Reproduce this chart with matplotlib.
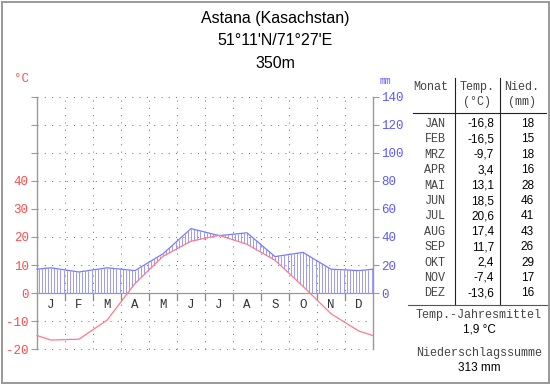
import matplotlib
matplotlib.use("Agg")
import matplotlib.pyplot as plt
import numpy as np

# climate data (Astana)
title_lines = ["Astana (Kasachstan)", "51°11'N/71°27'E", "350m"]
months = ["JAN", "FEB", "MRZ", "APR", "MAI", "JUN", "JUL", "AUG", "SEP", "OKT", "NOV", "DEZ"]
month_letters = ["J", "F", "M", "A", "M", "J", "J", "A", "S", "O", "N", "D"]
temp = [-16.8, -16.5, -9.7, 3.4, 13.1, 18.5, 20.6, 17.4, 11.7, 2.4, -7.4, -13.6]
prec = [18, 15, 18, 16, 28, 46, 41, 43, 26, 29, 17, 16]
temp_mean = "1,9 °C"
prec_sum = "313 mm"

W, H = 550, 384
RED = "#ff7a88"
BLUE = "#7a7aff"
MONO = "Liberation Mono"
SANS = "Liberation Sans"

fig = plt.figure(figsize=(W / 100, H / 100), dpi=100)
fig.patch.set_facecolor("white")

def fx(x):
    return x / W

def fy(y):
    return 1 - y / H

def ftext(x, y, s, **kw):
    fig.text(fx(x), fy(y), s, **kw)

# plot area: x 37..373, y 97..349 (-20..70 degC)
ax = fig.add_axes([fx(37), fy(349), (373 - 37) / W, (349 - 97) / H])
ax.set_xlim(0, 12)
ax.set_ylim(-20, 70)
for s in ax.spines.values():
    s.set_visible(False)
ax.patch.set_alpha(0)

dots = (0, (1, 6))
for v in range(-20, 80, 10):
    if v != 0:
        ax.plot([0, 12], [v, v], color="#777777", lw=0.75, ls=dots, clip_on=False)
for m in range(1, 12):
    ax.plot([m, m], [-20, 70], color="#777777", lw=0.75, ls=dots, clip_on=False)
    ax.plot([m, m], [0, -2.6], color="#888888", lw=0.9, clip_on=False)
ax.plot([0, 12], [0, 0], color="#999999", lw=0.9, clip_on=False)
ax.plot([0, 0], [-20, 70], color="#999999", lw=1, clip_on=False)
ax.plot([12, 12], [-20, 70], color="#999999", lw=1, clip_on=False)

# curves at mid-month, closed at the edges with Dec/Jan average
xc = np.arange(12) + 0.5
t = np.array(temp)
p = np.array(prec) / 2.0
xs = np.concatenate([[0], xc, [12]])
ts = np.concatenate([[(t[0] + t[-1]) / 2], t, [(t[0] + t[-1]) / 2]])
ps = np.concatenate([[(p[0] + p[-1]) / 2], p, [(p[0] + p[-1]) / 2]])

xh = np.arange(0.06, 12, 1 / 9)
th = np.interp(xh, xs, ts)
ph = np.interp(xh, xs, ps)
wet = ph > th
ax.vlines(xh[wet], np.maximum(th[wet], 0), ph[wet], color="#9a9aff", lw=0.7)
dry = ~wet
if dry.any():
    ax.vlines(xh[dry], ph[dry], th[dry], color=RED, lw=0.7, ls=(0, (1, 1)))

ax.plot(xs, ps, color=BLUE, lw=0.9, clip_on=False)
ax.plot(xs, ts, color=RED, lw=0.9, clip_on=False)

ax.set_xticks([])
ax.set_yticks(range(-20, 80, 10))
ax.set_yticklabels([str(v) if v <= 40 else "" for v in range(-20, 80, 10)])
ax.tick_params(axis="y", length=4, width=0.8, color="#999999", labelcolor="#ff4c4c",
               pad=2, labelsize=9)
for lab in ax.get_yticklabels():
    lab.set_family(MONO)

for i, ml in enumerate(month_letters):
    ax.text(i + 0.5, -4.4, ml, ha="center", va="center", fontsize=9,
            family=MONO, color="#333333")

ax2 = ax.twinx()
ax2.set_ylim(-40, 140)
for s in ax2.spines.values():
    s.set_visible(False)
ax2.set_yticks(range(0, 160, 20))
ax2.tick_params(axis="y", length=4, width=0.8, color="#999999", labelcolor="#5a5aff",
                pad=2, labelsize=9)
for lab in ax2.get_yticklabels():
    lab.set_family(MONO)

# titles and unit labels
for i, line in enumerate(title_lines):
    ftext(275, 18 + 22.5 * i, line, ha="center", va="center", fontsize=11.5, family=SANS)
ftext(22, 79, "°C", ha="center", va="center", fontsize=9, family=MONO, color="#ff4c4c")
ftext(385, 81, "mm", ha="center", va="center", fontsize=7, family=MONO, color="#5a5aff")

# table
gray = "#444444"
ftext(431, 87, "Monat", ha="center", va="center", fontsize=8.5, family=MONO, color=gray)
ftext(477, 87, "Temp.", ha="center", va="center", fontsize=8.5, family=MONO, color=gray)
ftext(522, 87, "Nied.", ha="center", va="center", fontsize=8.5, family=MONO, color=gray)
ftext(477, 102, "(°C)", ha="center", va="center", fontsize=8.5, family=MONO, color=gray)
ftext(522, 102, "(mm)", ha="center", va="center", fontsize=8.5, family=MONO, color=gray)
for i, mo in enumerate(months):
    y = 124 + 15.4 * i
    ftext(435, y, mo, ha="center", va="center", fontsize=8.5, family=MONO, color=gray)
    ftext(494, y, ("%.1f" % temp[i]).replace(".", ","), ha="right", va="center",
          fontsize=8.5, family=SANS)
    ftext(534, y, str(prec[i]), ha="right", va="center", fontsize=8.5, family=SANS)

ftext(479, 315, "Temp.-Jahresmittel", ha="center", va="center", fontsize=8.5, family=MONO, color=gray)
ftext(479, 330, temp_mean, ha="center", va="center", fontsize=8.5, family=SANS)
ftext(479, 353, "Niederschlagssumme", ha="center", va="center", fontsize=8.5, family=MONO, color=gray)
ftext(479, 368, prec_sum, ha="center", va="center", fontsize=8.5, family=SANS)

def fline(x0, y0, x1, y1, color="#222222", lw=0.8):
    fig.add_artist(plt.Line2D([fx(x0), fx(x1)], [fy(y0), fy(y1)], color=color, lw=lw))

fline(413, 113, 546, 113)
fline(455, 78, 455, 305)
fline(500, 78, 500, 305)
fline(408, 305, 548, 305, color="#555555")
# outer frame
fline(1.5, 1.5, 548.5, 1.5, color="#999999", lw=1.4)
fline(1.5, 382.5, 548.5, 382.5, color="#999999", lw=1.4)
fline(1.5, 1.5, 1.5, 382.5, color="#999999", lw=1.4)
fline(548.5, 1.5, 548.5, 382.5, color="#999999", lw=1.4)

fig.savefig("out.png", dpi=100)
